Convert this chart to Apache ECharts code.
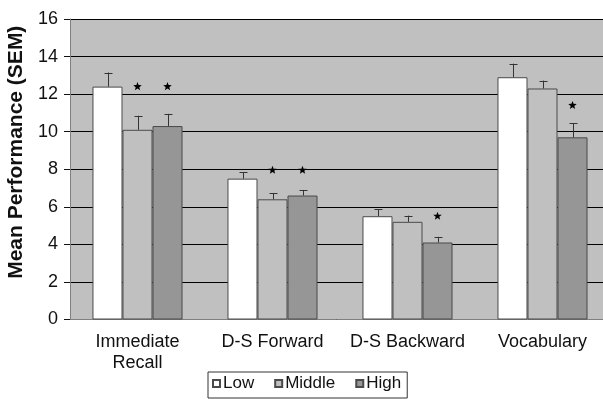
<!DOCTYPE html>
<html>
<head>
<meta charset="utf-8">
<script src="https://cdn.jsdelivr.net/npm/echarts@6/dist/echarts.min.js"></script>
<style>html,body{margin:0;padding:0;background:#fff}#c{width:603px;height:399px}</style>
</head>
<body>
<div id="c"></div>
<script>
var categories = ['Immediate\nRecall', 'D-S Forward', 'D-S Backward', 'Vocabulary'];
var seriesNames = ['Low', 'Middle', 'High'];
var lowValues = [12.4, 7.5, 5.5, 12.9];
var middleValues = [10.1, 6.4, 5.2, 12.3];
var highValues = [10.3, 6.6, 4.1, 9.7];
var lowSem = [0.75, 0.35, 0.38, 0.72];
var middleSem = [0.75, 0.32, 0.33, 0.42];
var highSem = [0.65, 0.3, 0.3, 0.75];
// significance stars: [categoryIndex, seriesIndex, yValue]
var stars = [[0, 1, 12.4], [0, 2, 12.4], [1, 1, 7.95], [1, 2, 7.95], [2, 2, 5.5], [3, 2, 11.4]];
var yTicks = [0, 2, 4, 6, 8, 10, 12, 14, 16];

var colors = ['#ffffff', '#c0c0c0', '#969696'];
var values = [lowValues, middleValues, highValues];
var sems = [lowSem, middleSem, highSem];
var FONT = 'Liberation Sans, Arial, sans-serif';

function offsetFor(api, sIdx) {
  var band = api.size([1, 0])[0];
  return (sIdx - 1) * band * (2 / 9);
}

var series = [];
seriesNames.forEach(function (name, i) {
  series.push({
    name: name,
    type: 'bar',
    data: values[i],
    barGap: '0%',
    barCategoryGap: '33.3%',
    itemStyle: { color: colors[i], borderColor: '#4a4a4a', borderWidth: 1 },
    emphasis: { disabled: true },
    z: 2
  });
});
seriesNames.forEach(function (name, i) {
  series.push({
    type: 'custom',
    z: 3,
    silent: true,
    data: values[i].map(function (v, k) { return [k, v, v + sems[i][k]]; }),
    renderItem: function (params, api) {
      var off = offsetFor(api, i);
      var p0 = api.coord([api.value(0), api.value(1)]);
      var p1 = api.coord([api.value(0), api.value(2)]);
      var x = Math.round(p0[0] + off) + 0.5;
      var style = { stroke: '#333', lineWidth: 1 };
      return {
        type: 'group',
        children: [
          { type: 'line', shape: { x1: x, y1: p0[1], x2: x, y2: p1[1] }, style: style },
          { type: 'line', shape: { x1: x - 4, y1: Math.round(p1[1]) + 0.5, x2: x + 4, y2: Math.round(p1[1]) + 0.5 }, style: style }
        ]
      };
    }
  });
});
series.push({
  type: 'custom',
  z: 4,
  silent: true,
  data: stars,
  renderItem: function (params, api) {
    var off = offsetFor(api, api.value(1));
    var p = api.coord([api.value(0), api.value(2)]);
    var cx = p[0] + off, cy = p[1];
    var R = 4.5, r = 1.9, pts = [];
    for (var j = 0; j < 10; j++) {
      var a = -Math.PI / 2 + j * Math.PI / 5;
      var rr = j % 2 === 0 ? R : r;
      pts.push([cx + rr * Math.cos(a), cy + rr * Math.sin(a)]);
    }
    return { type: 'polygon', shape: { points: pts }, style: { fill: '#000' } };
  }
});

var chart = echarts.init(document.getElementById('c'), null, { renderer: 'canvas' });
chart.setOption({
  animation: false,
  backgroundColor: '#ffffff',
  grid: { left: 70, width: 540, top: 19, height: 300.5, show: true, backgroundColor: '#c0c0c0', borderWidth: 0, containLabel: false, outerBoundsMode: 'none' },
  legend: {
    data: seriesNames,
    left: 208,
    top: 372,
    icon: 'rect',
    itemWidth: 7,
    itemHeight: 7,
    itemGap: 20,
    padding: [3, 6, 6, 4],
    borderColor: '#333',
    borderWidth: 1,
    textStyle: { fontFamily: FONT, fontSize: 17, color: '#111', padding: [0, 0, 0, -2] }
  },
  xAxis: {
    type: 'category',
    data: categories,
    axisLine: { show: true, lineStyle: { color: '#808080', width: 1 } },
    axisTick: { show: false },
    axisLabel: { interval: 0, fontFamily: FONT, fontSize: 18, color: '#111', margin: 12, lineHeight: 21 },
    splitLine: { show: false }
  },
  yAxis: {
    type: 'value',
    min: 0,
    max: 16,
    interval: 2,
    name: 'Mean Performance (SEM)',
    nameLocation: 'middle',
    nameGap: 41,
    nameTextStyle: { fontFamily: FONT, fontSize: 21, fontWeight: 'bold', color: '#111', padding: [0, 0, 0, 34] },
    axisLine: { show: true, lineStyle: { color: '#808080', width: 1 } },
    axisTick: { show: true, length: 6, lineStyle: { color: '#111' } },
    axisLabel: { fontFamily: FONT, fontSize: 18, color: '#111', margin: 12 },
    splitLine: { show: true, lineStyle: { color: '#000', width: 1 } }
  },
  series: series
});
</script>
</body>
</html>
